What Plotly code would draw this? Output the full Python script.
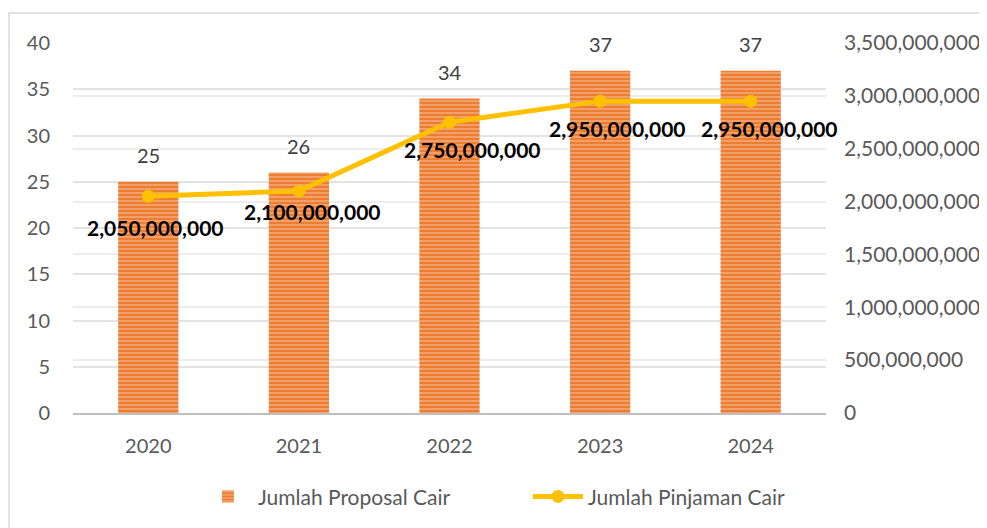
import plotly.graph_objects as go

years = ["2020", "2021", "2022", "2023", "2024"]
proposal_cair = [25, 26, 34, 37, 37]
pinjaman_cair = [2050000000, 2100000000, 2750000000, 2950000000, 2950000000]

left_ticks = [0, 5, 10, 15, 20, 25, 30, 35, 40]
right_ticks = [0, 500000000, 1000000000, 1500000000, 2000000000, 2500000000, 3000000000, 3500000000]

# label offsets (pixels) for line value labels
label_dx = [7, 14, 23, 17, 19]
label_dy = [-31, -20, -27, -27, -27]

FONT = "Lato"
FS = 20

fig = go.Figure()
fig.add_trace(go.Bar(
    x=years, y=proposal_cair, name="Jumlah Proposal Cair",
    marker=dict(color="#ED7D31", line=dict(width=0),
                pattern=dict(shape="-", fgcolor="#F8CBAD", size=4, solidity=0.45)),
    width=0.4,
))
fig.add_trace(go.Scatter(
    x=years, y=pinjaman_cair, name="Jumlah Pinjaman Cair", yaxis="y2",
    mode="lines+markers",
    line=dict(color="#FFC000", width=5),
    marker=dict(color="#FFC000", size=13, symbol="circle"),
))

annotations = []
for i, v in enumerate(proposal_cair):
    annotations.append(dict(
        x=i, y=v, xref="x", yref="y", text=str(v), showarrow=False,
        yanchor="bottom", yshift=13,
        font=dict(family=FONT, size=FS, color="#404040"),
    ))
for i, (v, dx, dy) in enumerate(zip(pinjaman_cair, label_dx, label_dy)):
    annotations.append(dict(
        x=i, y=v, xref="x", yref="y2", text=f"{v:,}", showarrow=False,
        xshift=dx, yshift=dy,
        font=dict(family=FONT, size=21, color="#000000", weight="bold"),
    ))

fig.update_layout(
    width=979, height=520,
    margin=dict(l=65, r=161, t=35, b=115),
    paper_bgcolor="white", plot_bgcolor="white",
    font=dict(family=FONT, size=FS, color="#595959"),
    showlegend=True,
    legend=dict(orientation="h", xref="container", yref="container",
                x=0.194, xanchor="left", y=0.06, yanchor="middle",
                font=dict(family=FONT, size=21, color="#595959"),
                traceorder="normal", itemwidth=50,
                entrywidth=265, entrywidthmode="pixels"),
    xaxis=dict(type="category", range=[-0.5, 4.5], showgrid=False, showline=True,
               linecolor="#BFBFBF", automargin=False, ticklabelstandoff=14,
               linewidth=2, ticks="", tickfont=dict(family=FONT, size=FS, color="#595959")),
    yaxis=dict(range=[0, 40], tickvals=left_ticks, showgrid=True, gridcolor="#E3E3E3",
               gridwidth=1.5, zeroline=False, showline=False, ticks="", automargin=False,
               ticklabelstandoff=22,
               tickfont=dict(family=FONT, size=FS, color="#595959")),
    yaxis2=dict(range=[0, 3500000000], tickvals=right_ticks, overlaying="y", side="right",
                showgrid=True, gridcolor="#EDEDED", gridwidth=1.5, zeroline=False,
                tickformat=",d", ticks="", ticklabelstandoff=17, automargin=False,
                tickfont=dict(family=FONT, size=21, color="#595959")),
    annotations=annotations,
    shapes=[dict(type="rect", xref="paper", yref="paper",
                 x0=-0.085, x1=1.3, y0=-0.5, y1=1.081,
                 line=dict(color="#D9D9D9", width=1.5), fillcolor="rgba(0,0,0,0)",
                 layer="below")],
)

fig.write_html("out.html")
